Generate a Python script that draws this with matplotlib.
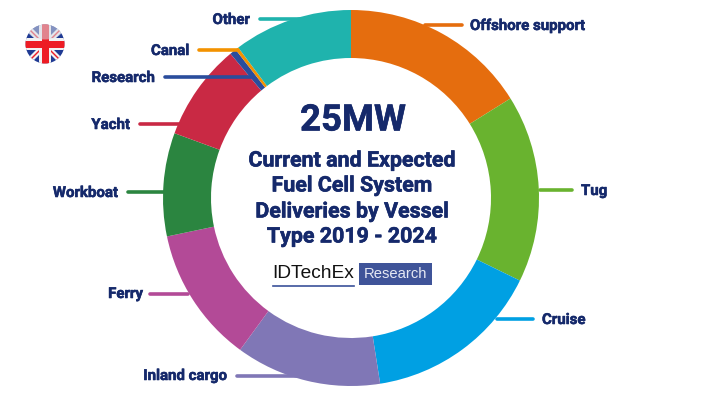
import matplotlib
matplotlib.use("Agg")
import matplotlib.pyplot as plt
import matplotlib.patheffects as pe
from matplotlib.patches import Circle, Ellipse, Polygon, Rectangle

W, H = 702, 395
NAVY = "#15296b"

labels = ["Offshore support", "Tug", "Cruise", "Inland cargo", "Ferry", "Workboat", "Yacht", "Research", "Canal", "Other"]
values = [4.03, 4.03, 3.82, 3.13, 2.92, 2.22, 2.08, 0.14, 0.07, 2.56]
colors = ["#e56d0e", "#69b32f", "#00a0e3", "#8077b6", "#b34a97", "#2b8540", "#c92944", "#2a4d9c", "#f39200", "#1fb3ad"]

# leader lines, in image pixels (x0, x1, y)
leaders = [(425, 462), (540, 572), (497, 533), (237, 309), (150, 188), (128, 168), (140, 180), (165, 252), (199, 238), (260, 300)]
leader_y = [25, 190, 319, 376, 294, 192, 124, 77, 50, 19]
# label anchor: x, y, ha
label_x = [470, 581, 542, 227, 143, 118, 130, 155, 189, 250]
label_y = [26, 191, 320, 376, 294, 193, 125, 78, 51, 20]
label_ha = ["left", "left", "left", "right", "right", "right", "right", "right", "right", "right"]


def py(y):
    return H - y


plt.rcParams["font.family"] = ["Roboto", "DejaVu Sans"]
fig = plt.figure(figsize=(W / 100, H / 100), dpi=100)
ax = fig.add_axes([0, 0, 1, 1])
ax.pie(values, colors=colors, startangle=90, counterclock=False, center=(351, py(198)), radius=188,
       wedgeprops={"width": 48, "linewidth": 0})
ax.set_xlim(0, W)
ax.set_ylim(0, H)
ax.set_aspect("equal")
ax.axis("off")

heavy = [pe.withStroke(linewidth=0.4, foreground=NAVY)]

for (x0, x1), y, c in zip(leaders, leader_y, colors):
    ax.plot([x0, x1], [py(y), py(y)], color=c, lw=2.6, solid_capstyle="round", zorder=3)

for name, x, y, ha in zip(labels, label_x, label_y, label_ha):
    ax.text(x, py(y), name, ha=ha, va="center", color=NAVY, fontsize=10.8, fontweight="bold", path_effects=heavy)

# centre text
ax.text(353, py(120.5), "25MW", ha="center", va="center", color=NAVY, fontsize=26.3, fontweight="bold", path_effects=heavy)
title_lines = ["Current and Expected", "Fuel Cell System", "Deliveries by Vessel", "Type 2019 - 2024"]
title_y = [161, 186, 212, 237]
for line, y in zip(title_lines, title_y):
    ax.text(352, py(y), line, ha="center", va="center", color=NAVY, fontsize=15.4, fontweight="bold", path_effects=heavy)

# logo
ax.text(272, py(274), "IDTechEx", ha="left", va="center", color="#111111", fontsize=13.8, family="Liberation Sans")
ax.plot([273, 354], [py(285.5), py(285.5)], color="#3b5199", lw=1.2)
ax.add_patch(Rectangle((359, py(285)), 73, 22, color="#3f5499", lw=0))
ax.text(395.5, py(274.5), "Research", ha="center", va="center", color="#e6e9f4", fontsize=10.6, family="Liberation Sans")

# flag
clip = Circle((45, py(44)), 19.5, transform=ax.transData, fc="#1f3a93", ec="none")
ax.add_patch(clip)
flag_parts = [
    ([(24, 24), (28, 24), (66, 62), (66, 66), (62, 66), (24, 28)], "#f2f2f2"),
    ([(66, 24), (62, 24), (24, 62), (24, 66), (28, 66), (66, 28)], "#f2f2f2"),
    ([(24, 25), (25, 24), (66, 65), (65, 66)], "#ed1c24"),
    ([(66, 25), (65, 24), (24, 65), (25, 66)], "#ed1c24"),
    ([(24, 38), (66, 38), (66, 50), (24, 50)], "#f2f2f2"),
    ([(39, 23), (51, 23), (51, 66), (39, 66)], "#f2f2f2"),
    ([(24, 40.5), (66, 40.5), (66, 47.5), (24, 47.5)], "#ed1c24"),
    ([(41.5, 23), (48.5, 23), (48.5, 66), (41.5, 66)], "#ed1c24"),
]
for pts, c in flag_parts:
    p = Polygon([(x, py(y)) for x, y in pts], closed=True, fc=c, ec="none", zorder=3)
    ax.add_patch(p)
    p.set_clip_path(clip)
gloss = Ellipse((45, py(31)), 34, 17, fc="#d8dbe6", alpha=0.55, ec="none", zorder=4)
ax.add_patch(gloss)
gloss.set_clip_path(clip)

fig.savefig("out.png", dpi=100)
